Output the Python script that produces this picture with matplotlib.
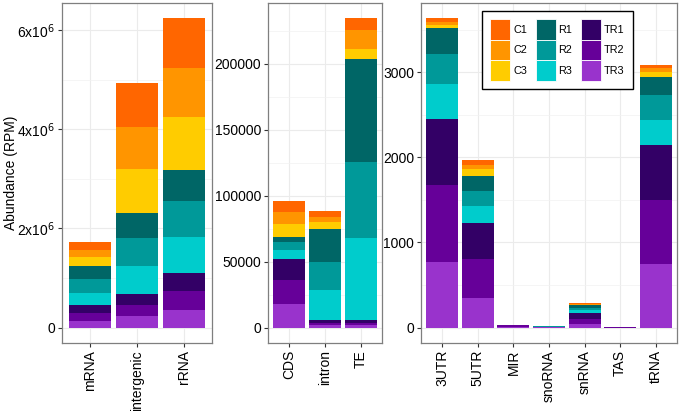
import numpy as np
import matplotlib
matplotlib.use("Agg")
import matplotlib.pyplot as plt
from matplotlib.patches import Patch

plt.rcParams['font.family'] = ['Liberation Sans', 'DejaVu Sans']

# stacking order, bottom to top
series = ['TR3', 'TR2', 'TR1', 'R3', 'R2', 'R1', 'C3', 'C2', 'C1']
colors = {'C1': '#FF6600', 'C2': '#FF9500', 'C3': '#FFCC00',
          'R1': '#006666', 'R2': '#009999', 'R3': '#00CCCC',
          'TR1': '#330066', 'TR2': '#660099', 'TR3': '#9933CC'}

# values per category, in the same order as `series`
left_cats = ['mRNA', 'intergenic', 'rRNA']
left_vals = [
    [0.134e6, 0.168e6, 0.148e6, 0.256e6, 0.282e6, 0.249e6, 0.188e6, 0.148e6, 0.147e6],
    [0.228e6, 0.236e6, 0.208e6, 0.571e6, 0.572e6, 0.497e6, 0.894e6, 0.846e6, 0.874e6],
    [0.363e6, 0.383e6, 0.363e6, 0.726e6, 0.725e6, 0.625e6, 1.062e6, 0.981e6, 1.009e6],
]

mid_cats = ['CDS', 'intron', 'TE']
mid_vals = [
    [17900, 18400, 15800, 6900, 5600, 4300, 9700, 8700, 8400],
    [2000, 1800, 1800, 23200, 21200, 24500, 5400, 4100, 4100],
    [2000, 1800, 1800, 62200, 57900, 77800, 7700, 14300, 8900],
]

right_cats = ['3UTR', '5UTR', 'MIR', 'snoRNA', 'snRNA', 'TAS', 'tRNA']
right_vals = [
    [776, 902, 775, 412, 352, 297, 39, 36, 43],
    [352, 459, 420, 201, 175, 174, 79, 51, 56],
    [5, 20, 5, 1, 1, 1, 0.5, 0.5, 0.5],
    [2, 3, 2, 3, 3, 3, 0.5, 0.5, 0.5],
    [40, 60, 75, 30, 30, 25, 10, 8, 8],
    [0.3, 0.3, 0.3, 0.3, 0.3, 0.3, 0.2, 0.2, 0.2],
    [752, 744, 645, 297, 292, 214, 59, 48, 39],
]

FS = 10
fig = plt.figure(figsize=(6.8, 4.11), dpi=100)


def panel(rect, cats, vals, yticks, yticklabels):
    ax = fig.add_axes(rect)
    vals = np.array(vals, dtype=float)
    x = np.arange(1, len(cats) + 1)
    bottom = np.zeros(len(cats))
    for j, s in enumerate(series):
        ax.bar(x, vals[:, j], 0.9, bottom=bottom, color=colors[s], linewidth=0, zorder=3)
        bottom += vals[:, j]
    top = bottom.max()
    ax.set_ylim(-0.05 * top, 1.05 * top)
    ax.set_xlim(0.4, len(cats) + 0.6)
    ax.set_xticks(x)
    ax.set_xticklabels(cats, rotation=90, fontsize=FS)
    ax.set_yticks(yticks)
    ax.set_yticklabels(yticklabels, fontsize=FS)
    # minor grid lines halfway between major ones
    minors = [(a + b) / 2 for a, b in zip(yticks[:-1], yticks[1:])]
    step = yticks[1] - yticks[0]
    if yticks[-1] + step / 2 < 1.05 * top:
        minors.append(yticks[-1] + step / 2)
    ax.set_yticks(minors, minor=True)
    ax.grid(True, which='major', color='#EBEBEB', linewidth=0.8, zorder=0)
    ax.grid(True, which='minor', axis='y', color='#F2F2F2', linewidth=0.5, zorder=0)
    ax.tick_params(which='minor', length=0)
    ax.tick_params(which='major', length=3, width=0.8, color='#333333', pad=2,
                   labelcolor='black')
    for sp in ax.spines.values():
        sp.set_color('#7F7F7F')
        sp.set_linewidth(0.9)
    return ax


H = 411.0
W = 680.0
bot = (H - 343) / H
hgt = 340 / H

ax1 = panel([62 / W, bot, 150 / W, hgt], left_cats, left_vals,
            [0, 2e6, 4e6, 6e6], ['0', '2x10$^6$', '4x10$^6$', '6x10$^6$'])
ax1.set_ylabel('Abundance (RPM)', fontsize=FS)
ax1.yaxis.set_label_coords(-44 / 150, 0.5)

ax2 = panel([268 / W, bot, 114 / W, hgt], mid_cats, mid_vals,
            [0, 50000, 100000, 150000, 200000],
            ['0', '50000', '100000', '150000', '200000'])

ax3 = panel([421 / W, bot, 256 / W, hgt], right_cats, right_vals,
            [0, 1000, 2000, 3000], ['0', '1000', '2000', '3000'])

legend_order = ['C1', 'C2', 'C3', 'R1', 'R2', 'R3', 'TR1', 'TR2', 'TR3']
handles = [Patch(facecolor=colors[s], edgecolor='white', linewidth=0.6) for s in legend_order]
leg = ax3.legend(handles, legend_order, ncol=3, loc='upper left',
                 bbox_to_anchor=(61 / 256, (343 - 11) / 340), borderaxespad=0,
                 fontsize=7.8, handlelength=1.85, handleheight=2.53, labelspacing=0.0,
                 handletextpad=0.28, columnspacing=0.75, borderpad=0.78,
                 fancybox=False, framealpha=1)
leg.get_frame().set_edgecolor('black')
leg.get_frame().set_linewidth(1.0)

fig.savefig('out.png', dpi=100)
